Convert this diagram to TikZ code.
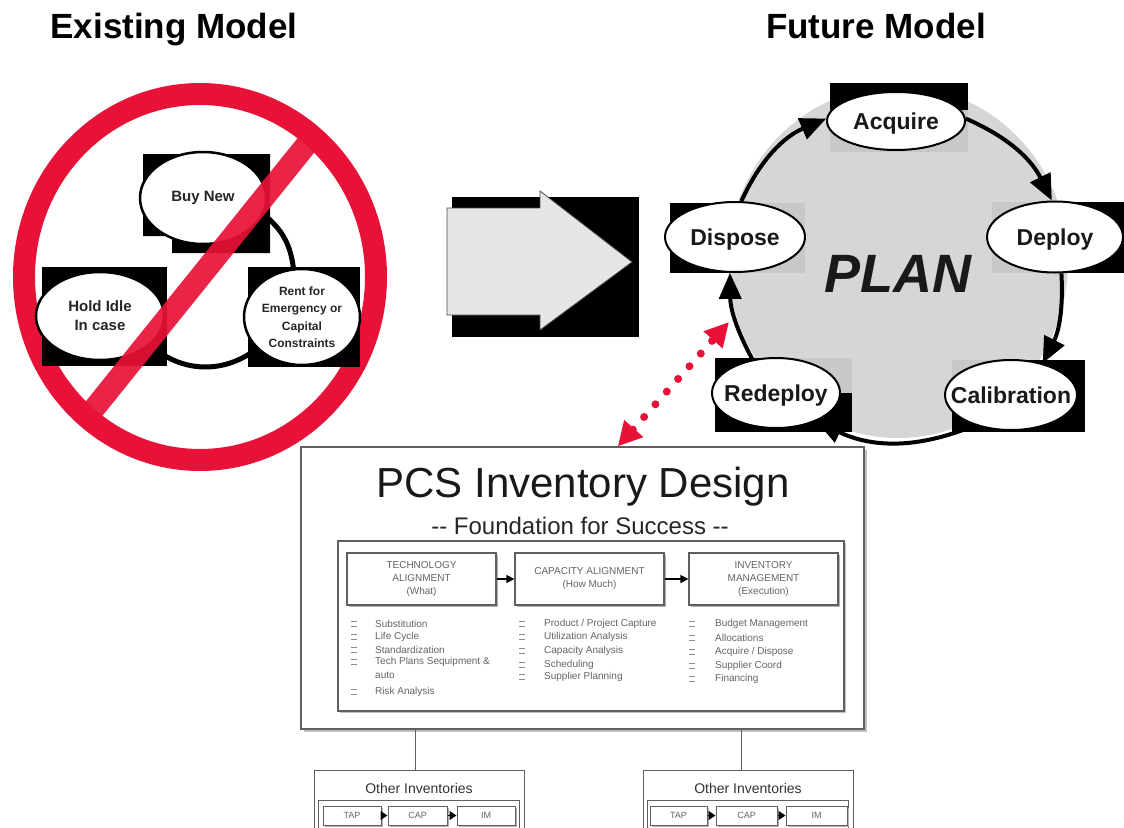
\documentclass[tikz,border=0pt]{standalone}
\usepackage{fontspec}
\setmainfont{Liberation Sans}[Ligatures=TeXOff]
\usetikzlibrary{arrows.meta,shapes.geometric}
\definecolor{stopred}{RGB}{232,18,56}
\definecolor{planfill}{RGB}{214,214,214}
\definecolor{halfshade}{RGB}{200,200,200}
\definecolor{arrowfill}{RGB}{230,230,230}
\definecolor{frameline}{RGB}{95,95,95}
\definecolor{softtext}{RGB}{100,100,100}
\begin{document}
\begin{tikzpicture}[x=1pt,y=-1pt,
  heading/.style={font=\fontsize{35}{40}\selectfont\bfseries, anchor=base, inner sep=0pt},
  oldstep/.style={ellipse, draw=black, line width=2.5pt, fill=white, inner sep=0pt,
    align=center, font=\fontsize{15}{19}\selectfont\bfseries, text=black!85},
  planstep/.style={ellipse, draw=black, line width=2pt, fill=white, inner sep=0pt,
    font=\fontsize{23}{26}\selectfont\bfseries, text=black!90, text height=16.5pt, text depth=0pt},
  cyclearc/.style={line width=4pt, -{Triangle[length=26pt,width=22pt]}},
  loopline/.style={line width=5pt},
  hdrbox/.style={draw=frameline, line width=1.3pt, fill=white, minimum width=149pt,
    minimum height=52pt, inner sep=0pt, align=center, font=\fontsize{10}{13}\selectfont,
    text=softtext, preaction={fill=black!30, transform canvas={xshift=2pt,yshift=-2pt}}},
  hdrarrow/.style={line width=1.5pt, -{Triangle[length=8pt,width=8pt]}},
  item/.style={anchor=west, inner sep=0pt, font=\fontsize{10}{12}\selectfont, text=softtext},
  bulletmark/.style={black!45, line width=1pt},
  subbox/.style={draw=frameline, line width=1pt, fill=white, minimum height=19pt, inner sep=0pt,
    font=\fontsize{9}{10}\selectfont, text=softtext,
    preaction={fill=black!30, transform canvas={xshift=1.5pt,yshift=-1.5pt}}},
  subarrow/.style={line width=1pt, -{Triangle[length=7pt,width=9pt]}},
  linkdots/.style={stopred, line width=8pt, line cap=round, dash pattern=on 0pt off 17pt,
    {Triangle[length=24pt,width=24pt]}-{Triangle[length=24pt,width=24pt]}}
]
\useasboundingbox (0,0) rectangle (1124,827);
\clip (0,0) rectangle (1124,827);
\fill[white] (0,0) rectangle (1124,827);

% headings
\node[heading] (hexist) at (174,38) {Existing Model};
\node[heading] (hfuture) at (876,38) {Future Model};

% ---------- existing model ----------
\draw[stopred, line width=22pt] (200,277) ellipse [x radius=176, y radius=183];

\fill (143,154) -- (270,154) -- (270,253) -- (172,253) -- (172,236) -- (143,236) -- cycle;
\fill (42,267) rectangle (167,366);
\fill (248,267) rectangle (360,367);
\node[oldstep, minimum width=126pt, minimum height=92pt] (buynew) at (203,198) {Buy New};
\node[oldstep, minimum width=128pt, minimum height=88pt] (holdidle) at (100,316) {Hold Idle\\In case};
\node[oldstep, minimum width=116pt, minimum height=96pt, font=\fontsize{12}{17.5}\selectfont\bfseries]
  (rent) at (302,317) {Rent for\\Emergency or\\Capital\\Constraints};
\draw[loopline] (buynew.-15) to[bend left=22] (rent.100);
\draw[loopline] (rent.215) to[bend left=40] (holdidle.-30);

% the stroke across the old cycle
\begin{scope}
  \clip (200,277) ellipse [x radius=176, y radius=183];
  \draw[stopred, line width=22pt, opacity=0.92] (340,103) -- (60,451);
\end{scope}

% ---------- transition arrow ----------
\fill (452,197) rectangle (639,337);
\draw[fill=arrowfill, draw=black!70, line width=0.8pt]
  (447,208) -- (540,208) -- (540,191) -- (632,262) -- (540,330) -- (540,315) -- (447,315) -- cycle;

% ---------- future model ----------
\fill[planfill] (898,262) ellipse [x radius=170, y radius=176];
\node[font=\fontsize{54}{60}\selectfont\bfseries\itshape, anchor=base, inner sep=0pt, text=black!90]
  (plan) at (898,292) {PLAN};

\fill (830,83) rectangle (968,110);   \fill[halfshade] (830,110) rectangle (968,152);
\fill (670,203) rectangle (735,273);  \fill[halfshade] (735,203) rectangle (805,273);
\fill[halfshade] (992,202) rectangle (1055,273); \fill (1055,202) rectangle (1124,273);
\fill (952,360) rectangle (1085,432); \fill[halfshade] (952,360) rectangle (1011,395);
\fill (715,358) rectangle (852,432);  \fill[halfshade] (776,358) rectangle (852,393);

\node[planstep, minimum width=138pt, minimum height=58pt] (acquire) at (896,121) {\makebox[0pt]{Acquire}};
\node[planstep, minimum width=136pt, minimum height=71pt] (deploy) at (1055,237) {\makebox[0pt]{Deploy}};
\node[planstep, minimum width=132pt, minimum height=70pt] (calib) at (1011,395) {\makebox[0pt]{Calibration}};
\node[planstep, minimum width=128pt, minimum height=70pt] (redeploy) at (776,393) {\makebox[0pt]{Redeploy}};
\node[planstep, minimum width=140pt, minimum height=70pt] (dispose) at (735,237) {\makebox[0pt]{Dispose}};

\draw[cyclearc] (dispose.80) to[bend left=21] (acquire.178);
\draw[cyclearc] (acquire.2) to[bend left=20] (deploy.95);
\draw[cyclearc] (deploy.-80) to[bend left=15] (calib.45);
\draw[cyclearc] (calib.220) to[bend left=24] (redeploy.-35);
\draw[cyclearc] (redeploy.125) to[bend left=14] (dispose.-98);

% ---------- PCS inventory design ----------
\fill[black!25] (304,450) rectangle (867,732);
\node[draw=frameline, line width=1.2pt, fill=white, minimum width=563pt, minimum height=282pt, inner sep=0pt]
  (pcs) at (582.5,588) {};
\node[font=\fontsize{42}{48}\selectfont, anchor=base, inner sep=0pt, text=black!90]
  (pcstitle) at (583,497) {PCS Inventory Design};
\node[font=\fontsize{24}{28}\selectfont, anchor=base, inner sep=0pt, text=black!85]
  (pcssub) at (580,534) {-- Foundation for Success --};

\fill[black!25] (340,543) rectangle (846,713);
\node[draw=frameline, line width=1.5pt, fill=white, minimum width=506pt, minimum height=170pt, inner sep=0pt]
  (frame) at (591,626) {};

\node[hdrbox] (tech) at (421.5,579) {TECHNOLOGY\\ALIGNMENT\\(What)};
\node[hdrbox] (capa) at (589.5,579) {CAPACITY ALIGNMENT\\(How Much)};
\node[hdrbox] (inv) at (763.5,579) {INVENTORY\\MANAGEMENT\\(Execution)};
\draw[hdrarrow] (tech) -- (capa);
\draw[hdrarrow] (capa) -- (inv);

% item lists
\foreach \yy/\txt [count=\i] in {624/{Substitution}, 637/{Life Cycle}, 650/{Standardization},
    662/{Tech Plans Sequipment \&}, 675/{auto}, 692/{Risk Analysis}}
  \node[item] (ta\i) at (375,\yy) {\txt};
\foreach \yy/\txt [count=\i] in {624/{Product / Project Capture}, 637/{Utilization Analysis},
    651/{Capacity Analysis}, 665/{Scheduling}, 677/{Supplier Planning}}
  \node[item] (ca\i) at (544,\yy) {\txt};
\foreach \yy/\txt [count=\i] in {624/{Budget Management}, 638/{Allocations}, 652/{Acquire / Dispose},
    666/{Supplier Coord}, 679/{Financing}}
  \node[item] (im\i) at (715,\yy) {\txt};
\foreach \xx/\yy in {354/624,354/637,354/650,354/662,354/692,
    522/624,522/637,522/651,522/665,522/677,
    692/624,692/638,692/652,692/666,692/679}
  \draw[bulletmark] (\xx-3,\yy-2.5) -- (\xx+3,\yy-2.5) (\xx-3,\yy+2.5) -- (\xx+3,\yy+2.5);

% ---------- other inventories ----------
\node[draw=frameline, line width=1pt, fill=white, minimum width=210pt, minimum height=70pt, inner sep=0pt]
  (oinvL) at (419,805) {};
\node[draw=frameline, line width=1pt, fill=white, minimum width=210pt, minimum height=70pt, inner sep=0pt]
  (oinvR) at (748,805) {};
\draw[frameline, line width=1pt] ([xshift=-4pt]oinvL.north |- pcs.south) -- ([xshift=-4pt]oinvL.north);
\draw[frameline, line width=1pt] ([xshift=-7pt]oinvR.north |- pcs.south) -- ([xshift=-7pt]oinvR.north);
\node[font=\fontsize{14}{16}\selectfont, text=black!80] (oinvLt) at (419,788) {Other Inventories};
\node[font=\fontsize{14}{16}\selectfont, text=black!80] (oinvRt) at (748,788) {Other Inventories};
\draw[frameline, line width=1pt] (318,800) rectangle (519,840);
\draw[frameline, line width=1pt] (647,800) rectangle (848,840);

\node[subbox, minimum width=58pt] (tapL) at (352,815.5) {TAP};
\node[subbox, minimum width=59pt] (capL) at (417.5,815.5) {CAP};
\node[subbox, minimum width=58pt] (imL) at (486,815.5) {IM};
\node[subbox, minimum width=57pt] (tapR) at (678.5,815.5) {TAP};
\node[subbox, minimum width=61pt] (capR) at (746.5,815.5) {CAP};
\node[subbox, minimum width=61pt] (imR) at (816.5,815.5) {IM};
\draw[subarrow] (tapL) -- (capL);
\draw[subarrow] (capL) -- (imL);
\draw[subarrow] (tapR) -- (capR);
\draw[subarrow] (capR) -- (imR);

% ---------- link between plan and design ----------
\coordinate (planlink) at (729,322);
\draw[linkdots] (pcs.76) -- (planlink);
\end{tikzpicture}
\end{document}
